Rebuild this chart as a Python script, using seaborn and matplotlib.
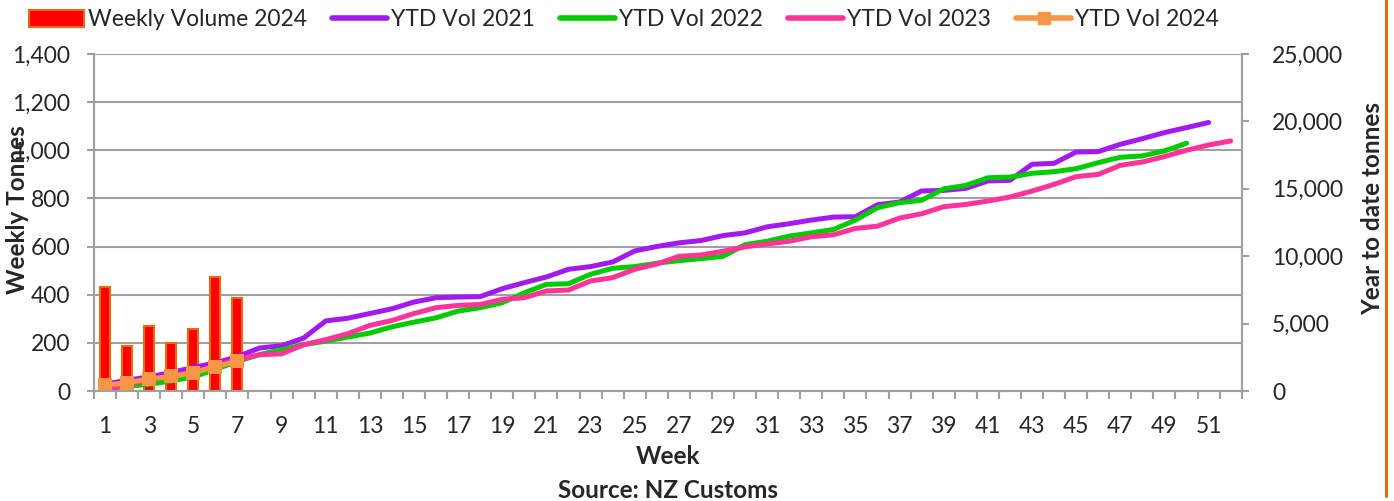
import matplotlib
matplotlib.use("Agg")
import matplotlib.pyplot as plt
from matplotlib.lines import Line2D
from matplotlib.patches import Patch
from matplotlib.ticker import FuncFormatter, MultipleLocator, FixedLocator
import seaborn as sns

# data
weeks_2024 = [1, 2, 3, 4, 5, 6, 7]
weekly_2024 = [430, 188, 270, 198, 256, 475, 385]
ytd_2024 = [430, 618, 888, 1086, 1342, 1817, 2202]

ytd_2021 = [500, 800, 1050, 1370, 1750, 2080, 2550, 3190, 3360, 3930,
            5200, 5400, 5750, 6100, 6600, 6920, 6970, 7000, 7590, 8040,
            8460, 9030, 9230, 9570, 10390, 10720, 10990, 11160, 11530, 11730,
            12180, 12410, 12680, 12900, 12930, 13820, 14020, 14840, 14880, 15030,
            15580, 15630, 16820, 16890, 17730, 17760, 18300, 18720, 19170, 19540,
            19920]
ytd_2022 = [150, 350, 500, 750, 1050, 1600, 2200, 2700, 3060, 3430,
            3700, 4000, 4300, 4760, 5110, 5430, 5930, 6180, 6550, 7290,
            7910, 7960, 8660, 9100, 9230, 9480, 9670, 9820, 9990, 10860,
            11110, 11490, 11730, 11980, 12680, 13600, 13970, 14150, 15000, 15250,
            15820, 15870, 16150, 16270, 16490, 16940, 17340, 17440, 17810, 18380]
ytd_2023 = [50, 500, 800, 1100, 1420, 1850, 2330, 2690, 2760, 3430,
            3810, 4250, 4870, 5230, 5750, 6180, 6350, 6420, 6800, 6920,
            7420, 7490, 8160, 8410, 9030, 9420, 9990, 10090, 10370, 10690,
            10910, 11110, 11440, 11590, 12060, 12230, 12830, 13150, 13670, 13840,
            14090, 14390, 14830, 15330, 15900, 16070, 16740, 16990, 17390, 17860,
            18250, 18550]

week_labels = list(range(1, 52, 2))

RED = "#FF0000"
BAR_EDGE = "#E46C0A"
PURPLE = "#A31AF0"
GREEN = "#00CC00"
PINK = "#FF3399"
ORANGE = "#F79646"
GRID = "#A0A0A0"

sns.set_theme(style="white")
plt.rcParams['font.family'] = ['Lato', 'DejaVu Sans']

fig = plt.figure(figsize=(13.94, 5.01), dpi=100)
ax = fig.add_axes([94 / 1394, 1 - 391 / 501, (1241.7 - 94) / 1394, (391 - 54) / 501])

sns.barplot(x=weeks_2024, y=weekly_2024, native_scale=True, color=RED,
            edgecolor=BAR_EDGE, linewidth=1.5, width=0.45, errorbar=None,
            saturation=1, ax=ax, zorder=3)

ax2 = ax.twinx()
sns.lineplot(x=list(range(1, len(ytd_2021) + 1)), y=ytd_2021, color=PURPLE,
             linewidth=3.6, ax=ax2, solid_capstyle='round', solid_joinstyle='round')
sns.lineplot(x=list(range(1, len(ytd_2022) + 1)), y=ytd_2022, color=GREEN,
             linewidth=3.6, ax=ax2, solid_capstyle='round', solid_joinstyle='round')
sns.lineplot(x=list(range(1, len(ytd_2023) + 1)), y=ytd_2023, color=PINK,
             linewidth=3.6, ax=ax2, solid_capstyle='round', solid_joinstyle='round')
sns.lineplot(x=weeks_2024, y=ytd_2024, color=ORANGE, linewidth=3.6, marker='s',
             markersize=9.5, markeredgewidth=0, ax=ax2, solid_capstyle='round')

ax.set_xlim(0.5, 52.5)
ax.set_ylim(0, 1400)
ax2.set_ylim(0, 25000)

ax.xaxis.set_major_locator(FixedLocator(week_labels))
ax.set_xticklabels([str(w) for w in week_labels])
ax.xaxis.set_minor_locator(MultipleLocator(1, offset=0.5))
ax.tick_params(axis='x', which='major', length=0, pad=18, labelsize=16.5)
ax.tick_params(axis='x', which='minor', length=6, width=1.5, color=GRID, direction='out', bottom=True)

ax.yaxis.set_major_locator(MultipleLocator(200))
ax.yaxis.set_major_formatter(FuncFormatter(lambda v, p: f"{int(v):,}"))
ax.tick_params(axis='y', length=5, width=1.5, color=GRID, direction='out', left=True, pad=12, labelsize=16.5)
ax2.yaxis.set_major_locator(MultipleLocator(5000))
ax2.yaxis.set_major_formatter(FuncFormatter(lambda v, p: f"{int(v):,}"))
ax2.tick_params(axis='y', length=5, width=1.5, color=GRID, direction='out', right=True, pad=17, labelsize=16.5)

ax.yaxis.grid(True, color=GRID, linewidth=1.5)
ax.set_axisbelow(True)
ax.set_xlabel("")
ax.set_ylabel("")
ax2.set_ylabel("")

for a in (ax, ax2):
    a.spines['top'].set_visible(False)
    for s in ('left', 'bottom', 'right'):
        a.spines[s].set_color(GRID)
        a.spines[s].set_linewidth(1.5)

fig.text(18 / 1394, 1 - 210 / 501, "Weekly Tonnes", rotation=90, ha='center', va='center',
         fontsize=17.5, fontweight='bold')
fig.text(1373 / 1394, 1 - 209 / 501, "Year to date tonnes", rotation=90, ha='center', va='center',
         fontsize=17.5, fontweight='bold')
fig.text(668 / 1394, 1 - 457 / 501, "Week", ha='center', va='center', fontsize=17.5, fontweight='bold')
fig.text(668 / 1394, 1 - 490 / 501, "Source: NZ Customs", ha='center', va='center',
         fontsize=17.5, fontweight='bold')

handles = [
    Patch(facecolor=RED, edgecolor=BAR_EDGE, linewidth=1.5),
    Line2D([], [], color=PURPLE, linewidth=4, solid_capstyle='round'),
    Line2D([], [], color=GREEN, linewidth=4, solid_capstyle='round'),
    Line2D([], [], color=PINK, linewidth=4, solid_capstyle='round'),
    Line2D([], [], color=ORANGE, linewidth=4, marker='s', markersize=9, markevery=[1]),
]
labels = ["Weekly Volume 2024", "YTD Vol 2021", "YTD Vol 2022", "YTD Vol 2023", "YTD Vol 2024"]
fig.legend(handles, labels, loc='center', bbox_to_anchor=(624 / 1394, 1 - 20 / 501), ncol=5,
           frameon=False, fontsize=16.5, handlelength=2.4, handletextpad=0.17, columnspacing=1.1)

fig.add_artist(Line2D([1386 / 1394, 1386 / 1394], [0.01, 1.0], color="#E36C09", linewidth=2.2))

fig.savefig("out.png", dpi=100)
